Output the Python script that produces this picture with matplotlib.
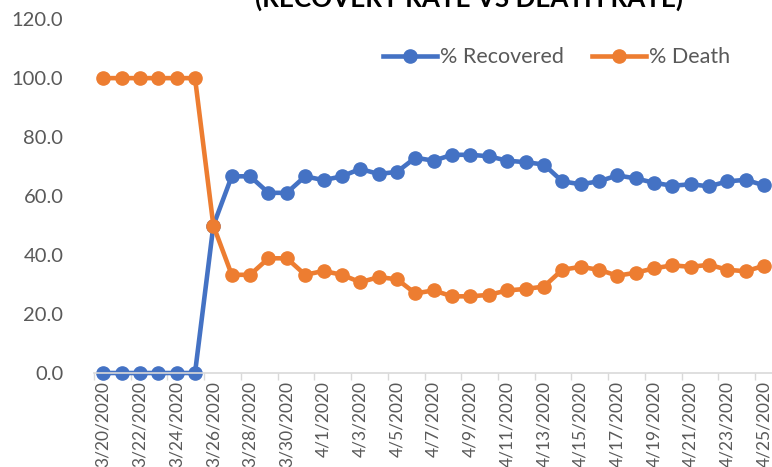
import numpy as np
import matplotlib
matplotlib.use("Agg")
import matplotlib.pyplot as plt

dates = ["3/20/2020", "3/21/2020", "3/22/2020", "3/23/2020", "3/24/2020", "3/25/2020",
         "3/26/2020", "3/27/2020", "3/28/2020", "3/29/2020", "3/30/2020", "3/31/2020",
         "4/1/2020", "4/2/2020", "4/3/2020", "4/4/2020", "4/5/2020", "4/6/2020",
         "4/7/2020", "4/8/2020", "4/9/2020", "4/10/2020", "4/11/2020", "4/12/2020",
         "4/13/2020", "4/14/2020", "4/15/2020", "4/16/2020", "4/17/2020", "4/18/2020",
         "4/19/2020", "4/20/2020", "4/21/2020", "4/22/2020", "4/23/2020", "4/24/2020",
         "4/25/2020"]

recovered = [0, 0, 0, 0, 0, 0, 50.0, 66.7, 66.7, 61.1, 61.1, 66.7, 65.4, 66.7, 69.2,
             67.5, 68.2, 73.0, 72.0, 74.0, 74.0, 73.5, 72.0, 71.5, 70.7, 65.0, 64.0,
             65.0, 67.0, 66.0, 64.5, 63.5, 64.0, 63.3, 65.0, 65.5, 63.6]

death = [100, 100, 100, 100, 100, 100, 50.0, 33.3, 33.3, 38.9, 38.9, 33.3, 34.6, 33.3,
         30.8, 32.5, 31.8, 27.0, 28.0, 26.0, 26.0, 26.5, 28.0, 28.5, 29.3, 35.0, 36.0,
         35.0, 33.0, 34.0, 35.5, 36.5, 36.0, 36.7, 35.0, 34.5, 36.4]

plt.rcParams['font.family'] = ['Lato', 'DejaVu Sans']

fig = plt.figure(figsize=(7.72, 4.67), dpi=100)
ax = fig.add_axes([0.1218, 0.2013, 0.88, 0.7577])

x = np.arange(len(dates))
ax.plot(x, recovered, color="#4472C4", lw=3.3, marker="o", ms=9.5, label="% Recovered",
        clip_on=False)
ax.plot(x, death, color="#ED7D31", lw=3.3, marker="o", ms=9.5, label="% Death",
        clip_on=False)

ax.set_xlim(-0.5, len(dates) - 0.5)
ax.set_ylim(0, 120)
ax.set_yticks(np.arange(0, 121, 20))
ax.set_yticklabels([f"{v:.1f}" for v in np.arange(0, 121, 20)])

ax.set_xticks(x[::2])
ax.set_xticklabels(dates[::2], rotation=90)
ax.set_xticks(np.arange(-0.5, len(dates), 2), minor=True)
ax.tick_params(axis="x", which="major", length=0, pad=6, labelsize=12.5, colors="#595959")
ax.tick_params(axis="x", which="minor", length=5, color="#D9D9D9", width=1)
ax.tick_params(axis="y", length=0, pad=22, labelsize=14.5, colors="#595959")

for s in ["top", "right", "left"]:
    ax.spines[s].set_visible(False)
ax.spines["bottom"].set_color("#D9D9D9")
ax.spines["bottom"].set_linewidth(1.2)

ax.legend(loc="upper right", bbox_to_anchor=(0.965, 0.975), ncol=2, frameon=False,
          fontsize=15.5, labelcolor="#595959", handlelength=2.5, handletextpad=0.15,
          columnspacing=1.3)

fig.text(0.607, 0.985, "(RECOVERY RATE VS DEATH RATE)", ha="center", va="baseline",
         fontsize=18.7, fontweight="bold", color="#000000")

fig.savefig("out.png", dpi=100)
